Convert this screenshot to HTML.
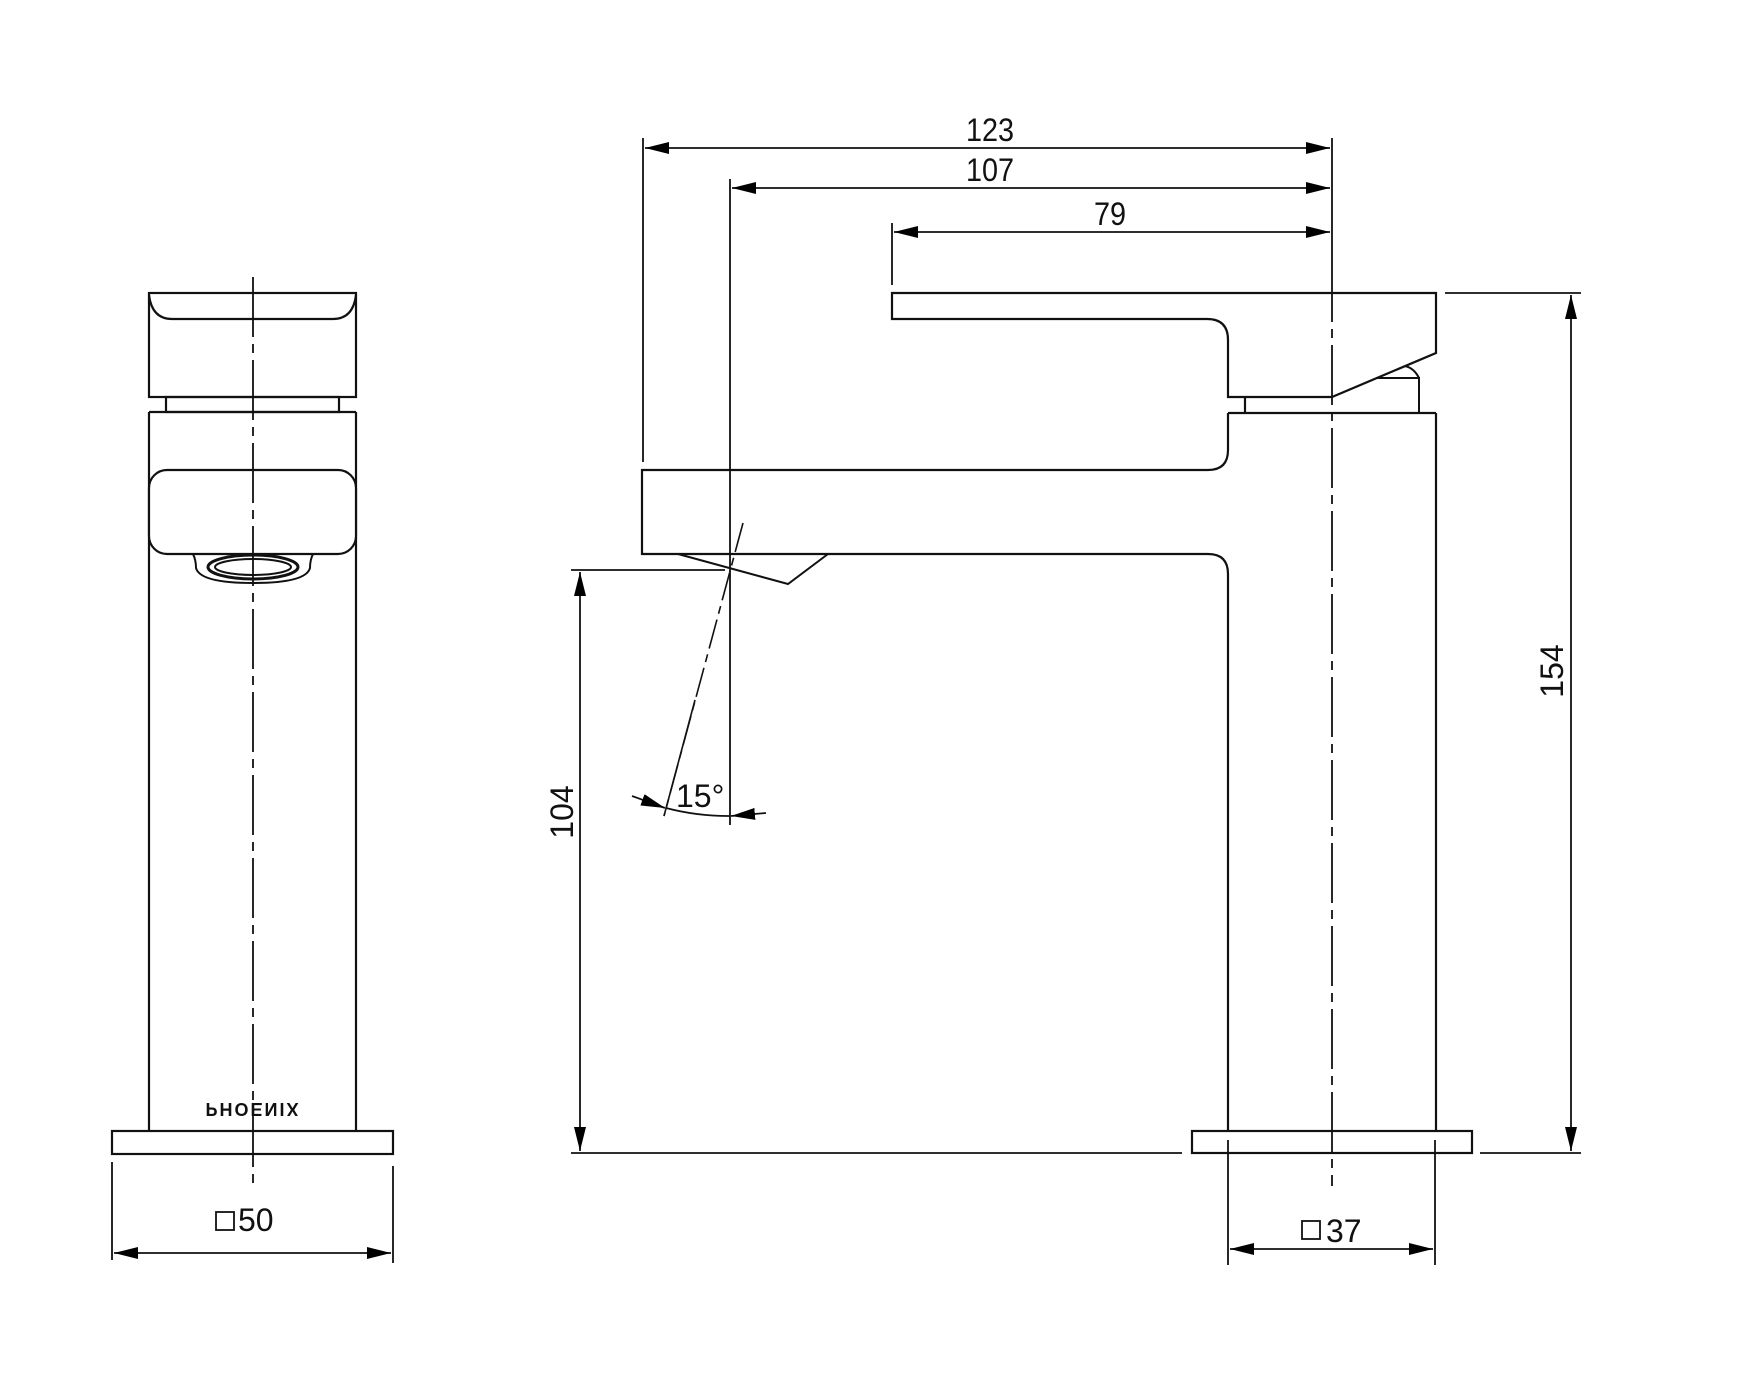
<!DOCTYPE html>
<html><head><meta charset="utf-8"><style>
html,body{margin:0;padding:0;background:#fff;}
svg{display:block;}
text{font-family:"Liberation Sans",sans-serif;fill:#111;}
</style></head><body>
<svg width="1750" height="1398" viewBox="0 0 1750 1398" xmlns="http://www.w3.org/2000/svg">
<defs>
<marker id="a" viewBox="0 0 24 12" refX="24" refY="6" markerWidth="24" markerHeight="12" markerUnits="userSpaceOnUse" orient="auto-start-reverse"><path d="M0,0 L24,6 L0,12 z" fill="#000"/></marker>
</defs>
<g fill="none" stroke="#111" stroke-width="2.2">
<!-- LEFT VIEW -->
<rect x="149" y="293" width="207" height="104"/>
<path d="M149,295 Q152,319 172,319 L333,319 Q353,319 356,295"/>
<rect x="166" y="397" width="173" height="15"/>
<path d="M149,412 L356,412 M149,412 L149,1131 M356,412 L356,1131"/>
<rect x="149" y="470" width="207" height="84" rx="18" fill="#fff"/>
<path d="M193,554 Q196,560 196,568 Q200,583 253,583 Q306,583 310,568 Q310,560 313,554" stroke-width="2"/>
<ellipse cx="253" cy="567" rx="45" ry="12" stroke-width="3"/>
<ellipse cx="253" cy="567" rx="38" ry="8" stroke-width="2"/>
<rect x="112" y="1131" width="281" height="23"/>
<line x1="253" y1="277" x2="253" y2="1188" stroke-width="1.8" stroke-dasharray="60,7,9,7"/>
<path d="M112,1162 V1260 M393,1166 V1263" stroke-width="1.8"/>
<line x1="114" y1="1253" x2="391" y2="1253" stroke-width="1.8" marker-start="url(#a)" marker-end="url(#a)"/>
<rect x="216" y="1212" width="18" height="18" stroke-width="1.8"/>

<!-- RIGHT VIEW -->
<path d="M892,293 L1436,293 L1436,353 L1332,397 L1228,397 L1228,340 Q1228,319 1207,319 L892,319 Z"/>
<path d="M1245,397 V412 M1228,413 L1436,413"/>
<path d="M1376,378 L1419,378 L1419,412 M1405,366 Q1414,368 1419,378" stroke-width="2"/>
<path d="M1228,413 L1228,450 Q1228,470 1208,470 L642,470 L642,554 L1208,554 Q1228,554 1228,574 L1228,1131"/>
<path d="M1436,413 L1436,1131"/>
<path d="M678,554 L788,584 L828,554" stroke-width="2"/>
<rect x="1192" y="1131" width="280" height="22"/>
<line x1="1332" y1="262" x2="1332" y2="1186" stroke-width="1.8" stroke-dasharray="60,7,9,7"/>
<!-- top dims -->
<path d="M643,138 V462 M730,179 V825 M892,223 V285 M1332,138 V262" stroke-width="1.8"/>
<line x1="645" y1="148" x2="1330" y2="148" stroke-width="1.8" marker-start="url(#a)" marker-end="url(#a)"/>
<line x1="732" y1="188" x2="1330" y2="188" stroke-width="1.8" marker-start="url(#a)" marker-end="url(#a)"/>
<line x1="894" y1="232" x2="1330" y2="232" stroke-width="1.8" marker-start="url(#a)" marker-end="url(#a)"/>
<!-- 154 -->
<path d="M1445,293 H1581 M1480,1153 H1581" stroke-width="1.8"/>
<line x1="1571" y1="295" x2="1571" y2="1151" stroke-width="1.8" marker-start="url(#a)" marker-end="url(#a)"/>
<!-- 104 -->
<path d="M571,570 H725 M571,1153 H1182" stroke-width="1.8"/>
<line x1="580" y1="572" x2="580" y2="1151" stroke-width="1.8" marker-start="url(#a)" marker-end="url(#a)"/>
<!-- angle -->
<path d="M743,523 L664,816" stroke-width="1.6" stroke-dasharray="30,6,8,6"/>
<path d="M695,700 L664,816" stroke-width="1.6"/>
<path d="M666,808 A246,246 0 0 0 730,816" stroke-width="1.8"/>
<line x1="632" y1="796" x2="665" y2="808" stroke-width="1.8" marker-end="url(#a)"/>
<line x1="766" y1="813" x2="731" y2="816" stroke-width="1.8" marker-end="url(#a)"/>
<!-- 37 -->
<path d="M1228,1140 V1265 M1435,1140 V1265" stroke-width="1.8"/>
<line x1="1230" y1="1249" x2="1433" y2="1249" stroke-width="1.8" marker-start="url(#a)" marker-end="url(#a)"/>
<rect x="1302" y="1221" width="18" height="18" stroke-width="1.8"/>
</g>
<g font-size="32">
<text x="990" y="141" text-anchor="middle" transform="translate(990 0) scale(0.9 1) translate(-990 0)">123</text>
<text x="990" y="181" text-anchor="middle" transform="translate(990 0) scale(0.9 1) translate(-990 0)">107</text>
<text x="1110" y="225" text-anchor="middle" transform="translate(1110 0) scale(0.9 1) translate(-1110 0)">79</text>
<text x="238" y="1231">50</text>
<text x="1326" y="1242">37</text>
<text x="676" y="807">15°</text>
<text transform="translate(573 812) rotate(-90)" text-anchor="middle">104</text>
<text transform="translate(1563 671) rotate(-90)" text-anchor="middle">154</text>
</g>
<text transform="translate(253 1103) scale(1 -1)" text-anchor="middle" font-size="18" font-weight="bold" style="letter-spacing:2px">PHOENIX</text>
</svg>
</body></html>
